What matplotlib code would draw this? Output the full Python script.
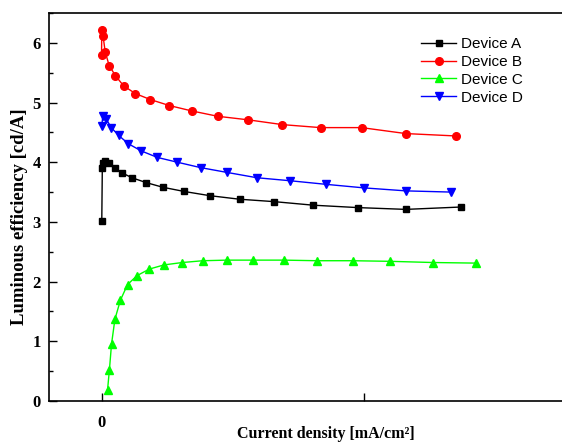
import matplotlib
matplotlib.use("Agg")
import matplotlib.pyplot as plt
from matplotlib.ticker import MultipleLocator

# current density (arbitrary scale, unlabeled tick at 100) and efficiency [cd/A]
x_a = [0.1, 0.3, 0.6, 1.4, 2.9, 5.0, 7.9, 11.6, 16.9, 23.4, 31.5, 41.2, 52.6, 65.7, 80.7, 97.6, 115.9, 137.0]
y_a = [3.02, 3.90, 3.99, 4.02, 3.99, 3.90, 3.82, 3.74, 3.66, 3.58, 3.51, 3.44, 3.38, 3.34, 3.28, 3.24, 3.21, 3.25]

x_b = [0.0, 0.1, 0.6, 1.4, 2.9, 5.3, 8.4, 12.9, 18.6, 25.8, 34.3, 44.2, 55.9, 68.9, 83.4, 99.0, 115.9, 135.0]
y_b = [5.80, 6.21, 6.11, 5.85, 5.62, 5.45, 5.28, 5.15, 5.05, 4.95, 4.86, 4.77, 4.71, 4.63, 4.58, 4.58, 4.48, 4.44]

x_c = [2.3, 3.0, 3.8, 5.1, 7.2, 9.9, 13.5, 18.2, 23.8, 30.8, 38.6, 47.7, 57.8, 69.5, 82.0, 95.7, 109.8, 126.1, 142.7]
y_c = [0.19, 0.52, 0.95, 1.37, 1.69, 1.95, 2.10, 2.21, 2.28, 2.32, 2.35, 2.36, 2.36, 2.36, 2.35, 2.35, 2.34, 2.32, 2.31]

x_d = [0.1, 0.5, 1.7, 3.7, 6.5, 10.2, 15.1, 21.3, 28.9, 37.7, 47.7, 59.2, 71.8, 85.4, 100.0, 116.0, 133.1]
y_d = [4.61, 4.78, 4.73, 4.58, 4.45, 4.31, 4.19, 4.08, 4.00, 3.91, 3.83, 3.74, 3.69, 3.63, 3.57, 3.52, 3.50]

fig = plt.figure(figsize=(5.62, 4.44), dpi=100)
# axes runs past the right edge of the picture, as in the cropped original
ax = fig.add_axes([49 / 562, 43 / 444, 562 / 562, 388 / 444])

ax.plot(x_a, y_a, color="black", lw=1, marker="s", ms=5, label="Device A")
ax.plot(x_b, y_b, color="red", lw=1, marker="o", ms=5.5, label="Device B")
ax.plot(x_c, y_c, color="#00ff00", lw=1, marker="^", ms=5.5, label="Device C")
ax.plot(x_d, y_d, color="blue", lw=1, marker="v", ms=5.5, label="Device D")

ax.set_xlim(-20, 194)
ax.set_ylim(0, 6.5)
ax.set_xticks([0, 100])
ax.set_xticklabels(["0", ""])
ax.yaxis.set_major_locator(MultipleLocator(1))
ax.yaxis.set_minor_locator(MultipleLocator(0.5))
ax.tick_params(axis="both", which="major", direction="in", length=5.5, width=1)
ax.tick_params(axis="y", which="minor", direction="in", length=3, width=1)
ax.tick_params(axis="x", pad=10)
ax.tick_params(axis="y", pad=6)
for lab in ax.get_xticklabels() + ax.get_yticklabels():
    lab.set_fontfamily("Liberation Serif")
    lab.set_fontweight("bold")
    lab.set_fontsize(12)
for s in ax.spines.values():
    s.set_linewidth(1.2)
ax.spines["right"].set_visible(False)

ax.set_xlabel("Current density [mA/cm²]", fontfamily="Liberation Serif",
              fontweight="bold", fontsize=11.5)
ax.set_ylabel("Luminous efficiency [cd/A]", fontfamily="Liberation Serif",
              fontweight="bold", fontsize=13.5)
ax.xaxis.set_label_coords(326 / 562, 1 - 426 / 444, transform=fig.transFigure)
ax.yaxis.set_label_coords(28 / 562, 1 - 217 / 444, transform=fig.transFigure)

leg = ax.legend(loc="upper left", bbox_to_anchor=(415 / 562, 1 - 31 / 444), bbox_transform=fig.transFigure,
                frameon=False, handlelength=2.3, handletextpad=0.3, labelspacing=0.25,
                borderaxespad=0, prop={"family": "Liberation Sans", "size": 11})

fig.savefig("out.png", dpi=100)
